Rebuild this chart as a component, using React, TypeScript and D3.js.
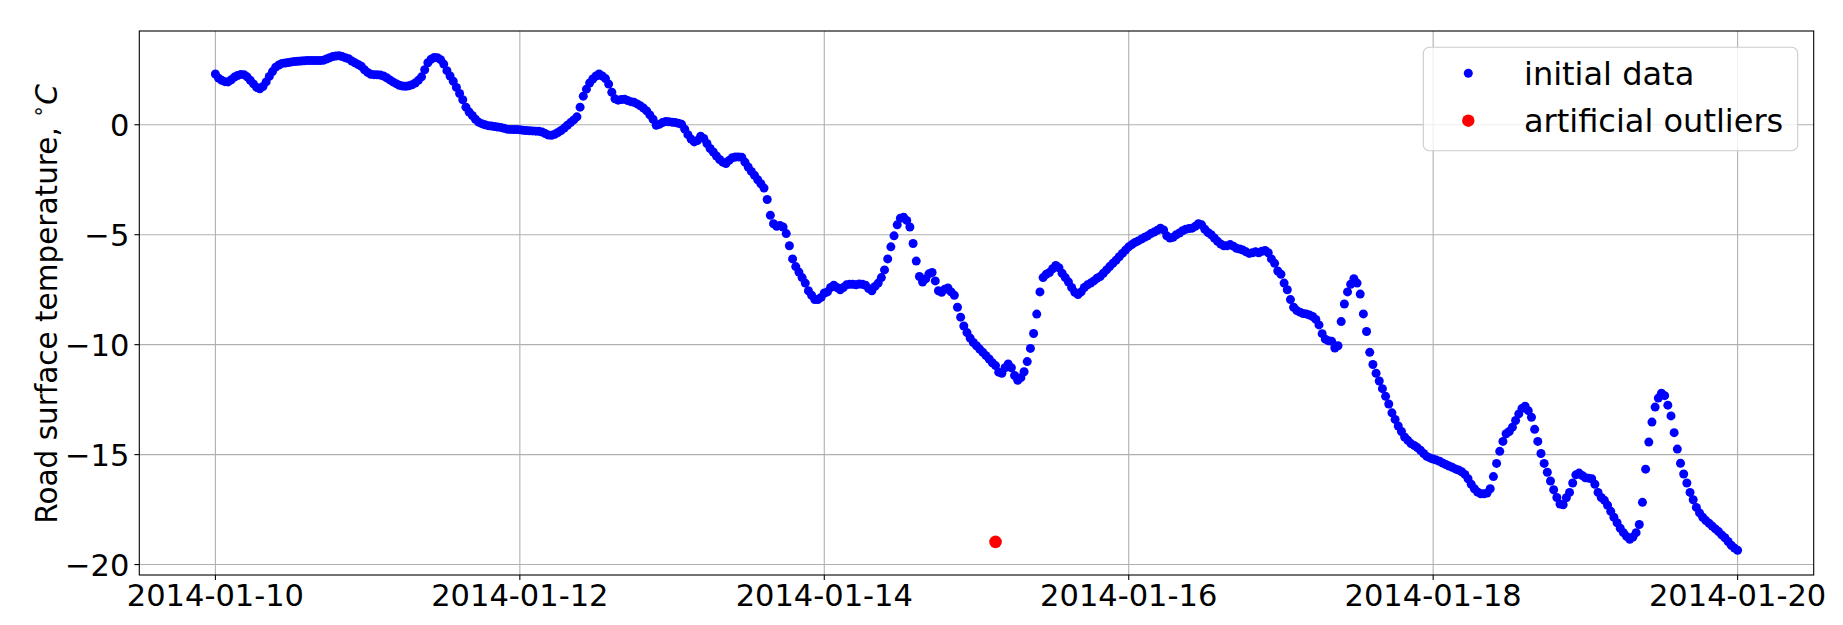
import React, { useEffect, useRef } from 'react';
import * as d3 from 'd3';

// half-hourly road surface temperature, one array per day (00:00 .. 23:30)
const SERIES_START = '2014-01-10T00:00:00';
const STEP_MINUTES = 30;

const day10 = [2.31, 2.12, 2.02, 1.96, 1.95, 2.05, 2.17, 2.24, 2.29, 2.28, 2.18, 2.02, 1.86, 1.70, 1.64, 1.74, 1.95, 2.20, 2.42, 2.62, 2.72, 2.79, 2.81, 2.83, 2.86, 2.88, 2.89, 2.90, 2.91, 2.92, 2.92, 2.92, 2.92, 2.92, 2.93, 2.99, 3.05, 3.10, 3.13, 3.14, 3.10, 3.05, 3.00, 2.90, 2.82, 2.74, 2.66, 2.50];
const day11 = [2.38, 2.30, 2.28, 2.27, 2.26, 2.22, 2.14, 2.04, 1.95, 1.87, 1.80, 1.76, 1.75, 1.77, 1.82, 1.90, 2.02, 2.18, 2.50, 2.82, 2.98, 3.06, 3.05, 2.96, 2.76, 2.46, 2.22, 1.98, 1.70, 1.42, 1.14, 0.80, 0.58, 0.42, 0.25, 0.12, 0.05, 0.00, -0.04, -0.06, -0.08, -0.10, -0.12, -0.16, -0.20, -0.21, -0.22, -0.22];
const day12 = [-0.23, -0.25, -0.26, -0.27, -0.28, -0.29, -0.30, -0.33, -0.40, -0.47, -0.48, -0.43, -0.35, -0.26, -0.15, -0.02, 0.10, 0.22, 0.36, 0.80, 1.30, 1.62, 1.90, 2.08, 2.22, 2.31, 2.22, 2.10, 1.85, 1.48, 1.18, 1.12, 1.15, 1.16, 1.10, 1.05, 1.02, 0.95, 0.86, 0.76, 0.63, 0.45, 0.25, -0.02, 0.02, 0.10, 0.15, 0.14];
const day13 = [0.12, 0.10, 0.07, 0.02, -0.20, -0.45, -0.65, -0.78, -0.72, -0.52, -0.62, -0.85, -1.08, -1.24, -1.42, -1.58, -1.70, -1.76, -1.62, -1.50, -1.47, -1.46, -1.48, -1.70, -1.92, -2.12, -2.30, -2.50, -2.68, -2.88, -3.40, -4.12, -4.50, -4.62, -4.58, -4.65, -4.95, -5.50, -6.10, -6.45, -6.70, -6.95, -7.20, -7.55, -7.75, -7.95, -7.95, -7.85];
const day14 = [-7.65, -7.60, -7.40, -7.30, -7.40, -7.50, -7.40, -7.28, -7.25, -7.25, -7.28, -7.24, -7.25, -7.30, -7.45, -7.55, -7.35, -7.20, -6.95, -6.60, -6.10, -5.55, -5.05, -4.55, -4.25, -4.20, -4.35, -4.65, -5.40, -6.20, -6.90, -7.15, -7.00, -6.78, -6.72, -7.10, -7.55, -7.62, -7.48, -7.42, -7.60, -7.75, -8.30, -8.75, -9.15, -9.45, -9.70, -9.90];
const day15 = [-10.05, -10.20, -10.35, -10.50, -10.65, -10.82, -10.95, -11.25, -11.30, -11.05, -10.88, -11.05, -11.40, -11.62, -11.50, -11.23, -10.77, -10.17, -9.49, -8.61, -7.60, -6.95, -6.80, -6.72, -6.55, -6.40, -6.50, -6.75, -6.95, -7.15, -7.40, -7.62, -7.72, -7.60, -7.40, -7.28, -7.20, -7.10, -6.98, -6.90, -6.75, -6.60, -6.45, -6.30, -6.16, -6.00, -5.85, -5.70];
const day16 = [-5.55, -5.45, -5.35, -5.28, -5.20, -5.12, -5.05, -4.95, -4.88, -4.80, -4.70, -4.78, -5.05, -5.15, -5.12, -5.00, -4.92, -4.82, -4.75, -4.72, -4.70, -4.62, -4.50, -4.55, -4.75, -4.90, -5.00, -5.15, -5.30, -5.42, -5.50, -5.50, -5.45, -5.52, -5.62, -5.65, -5.70, -5.78, -5.85, -5.82, -5.78, -5.82, -5.75, -5.72, -5.82, -6.10, -6.30, -6.65];
const day17 = [-6.80, -7.20, -7.50, -7.95, -8.30, -8.45, -8.52, -8.58, -8.60, -8.65, -8.72, -8.85, -9.10, -9.50, -9.75, -9.82, -9.85, -10.15, -10.05, -8.95, -8.15, -7.60, -7.25, -7.00, -7.20, -7.70, -8.60, -9.40, -10.35, -10.90, -11.30, -11.65, -12.00, -12.35, -12.70, -13.10, -13.40, -13.70, -13.95, -14.20, -14.35, -14.50, -14.58, -14.68, -14.80, -14.95, -15.08, -15.15];
const day18 = [-15.20, -15.25, -15.30, -15.38, -15.45, -15.52, -15.58, -15.65, -15.70, -15.78, -15.90, -16.10, -16.35, -16.55, -16.70, -16.78, -16.78, -16.75, -16.55, -16.00, -15.40, -14.85, -14.40, -14.05, -13.95, -13.75, -13.45, -13.15, -12.90, -12.80, -13.00, -13.30, -13.85, -14.40, -14.95, -15.40, -15.80, -16.20, -16.60, -16.95, -17.25, -17.28, -16.96, -16.72, -16.29, -15.92, -15.84, -15.95];
const day19 = [-16.05, -16.07, -16.10, -16.35, -16.72, -16.95, -17.08, -17.30, -17.58, -17.85, -18.10, -18.35, -18.55, -18.72, -18.85, -18.75, -18.55, -18.18, -17.17, -15.66, -14.43, -13.52, -12.84, -12.43, -12.21, -12.32, -12.75, -13.24, -14.00, -14.75, -15.39, -15.88, -16.29, -16.72, -17.05, -17.40, -17.65, -17.85, -18.00, -18.12, -18.25, -18.38, -18.50, -18.65, -18.78, -18.95, -19.12, -19.25];
const lastReading = -19.35; // 2014-01-20 00:00

const outlierTimes = ['2014-01-15T03:00:00'];
const outlierValues = [-18.97];

const xTickLabels = ['2014-01-10', '2014-01-12', '2014-01-14', '2014-01-16', '2014-01-18', '2014-01-20'];
const yTicks = [-20, -15, -10, -5, 0];
const legendLabels = ['initial data', 'artificial outliers'];
const yLabel = 'Road surface temperature, ';

const W = 1843;
const H = 625;
const FONT = 'DejaVu Sans';
const FS = 30.5;
const LABEL_FS = 29.5;
const LEGEND_FS = 32;

const App = () => {
  const ref = useRef<SVGSVGElement>(null);

  useEffect(() => {
    const svg = d3.select(ref.current);
    svg.selectAll('*').remove();

    const left = 139.3, right = 1813.7, top = 31, bottom = 575;

    const start = new Date(SERIES_START).getTime();
    const values = [...day10, ...day11, ...day12, ...day13, ...day14, ...day15, ...day16, ...day17, ...day18, ...day19, lastReading];
    const data = values.map((v, i) => ({ t: new Date(start + i * STEP_MINUTES * 60000), v }));
    const outliers = outlierTimes.map((s, i) => ({ t: new Date(s), v: outlierValues[i] }));

    const all = [...data, ...outliers];
    const [t0, t1] = d3.extent(all, (d) => d.t.getTime()) as [number, number];
    const [v0, v1] = d3.extent(all, (d) => d.v) as [number, number];
    const tPad = (t1 - t0) * 0.05;
    const vPad = (v1 - v0) * 0.05;

    const x = d3.scaleTime().domain([new Date(t0 - tPad), new Date(t1 + tPad)]).range([left, right]);
    const y = d3.scaleLinear().domain([v0 - vPad, v1 + vPad]).range([bottom, top]);

    svg.append('rect').attr('width', W).attr('height', H).attr('fill', '#fff');

    // grid
    const grid = svg.append('g').attr('stroke', '#b0b0b0').attr('stroke-width', 1.1);
    xTickLabels.forEach((s) => {
      const px = x(new Date(s + 'T00:00:00'));
      grid.append('line').attr('x1', px).attr('x2', px).attr('y1', top).attr('y2', bottom);
    });
    yTicks.forEach((v) => {
      grid.append('line').attr('x1', left).attr('x2', right).attr('y1', y(v)).attr('y2', y(v));
    });

    // points
    svg
      .append('g')
      .selectAll('circle')
      .data(data)
      .enter()
      .append('circle')
      .attr('cx', (d) => x(d.t))
      .attr('cy', (d) => y(d.v))
      .attr('r', 4.5)
      .attr('fill', '#0000ff');

    svg
      .append('g')
      .selectAll('circle')
      .data(outliers)
      .enter()
      .append('circle')
      .attr('cx', (d) => x(d.t))
      .attr('cy', (d) => y(d.v))
      .attr('r', 6.3)
      .attr('fill', '#ff0000');

    // spines
    svg
      .append('rect')
      .attr('x', left)
      .attr('y', top)
      .attr('width', right - left)
      .attr('height', bottom - top)
      .attr('fill', 'none')
      .attr('stroke', '#000')
      .attr('stroke-width', 1.1);

    // ticks + labels
    const ticks = svg.append('g').attr('font-family', FONT).attr('font-size', FS).attr('fill', '#000');
    xTickLabels.forEach((s) => {
      const px = x(new Date(s + 'T00:00:00'));
      ticks.append('line').attr('x1', px).attr('x2', px).attr('y1', bottom).attr('y2', bottom + 4.9).attr('stroke', '#000').attr('stroke-width', 1.1);
      ticks.append('text').attr('x', px).attr('y', 606).attr('text-anchor', 'middle').text(s);
    });
    yTicks.forEach((v) => {
      const py = y(v);
      ticks.append('line').attr('x1', left - 4.9).attr('x2', left).attr('y1', py).attr('y2', py).attr('stroke', '#000').attr('stroke-width', 1.1);
      ticks
        .append('text')
        .attr('x', left - 10)
        .attr('y', py + 11.1)
        .attr('text-anchor', 'end')
        .text(v < 0 ? '\u2212' + Math.abs(v) : String(v));
    });

    // y label
    const lab = svg
      .append('text')
      .attr('transform', `translate(57,${(top + bottom) / 2 + 1}) rotate(-90)`)
      .attr('text-anchor', 'middle')
      .attr('font-family', FONT)
      .attr('font-size', LABEL_FS)
      .attr('fill', '#000');
    lab.append('tspan').text(yLabel);
    lab.append('tspan').attr('font-size', LABEL_FS * 0.7).attr('dy', -12).text('\u2218');
    lab.append('tspan').attr('dy', 12).attr('font-style', 'italic').text('C');

    // legend
    const lg = svg.append('g');
    lg.append('rect')
      .attr('x', 1423.3)
      .attr('y', 47.3)
      .attr('width', 374.4)
      .attr('height', 103.4)
      .attr('rx', 6)
      .attr('fill', '#fff')
      .attr('fill-opacity', 0.8)
      .attr('stroke', '#cccccc')
      .attr('stroke-width', 1.1);
    const colors = ['#0000ff', '#ff0000'];
    const radii = [4.5, 6.2];
    legendLabels.forEach((name, i) => {
      const cy = 73.3 + i * 47.4;
      lg.append('circle').attr('cx', 1468.3).attr('cy', cy).attr('r', radii[i]).attr('fill', colors[i]);
      lg.append('text')
        .attr('x', 1524)
        .attr('y', cy + 11.2)
        .attr('font-family', FONT)
        .attr('font-size', LEGEND_FS)
        .attr('fill', '#000')
        .text(name);
    });
  }, []);

  return <svg ref={ref} width={W} height={H} style={{ position: 'absolute', left: 0, top: 0 }} />;
};

export default App;
